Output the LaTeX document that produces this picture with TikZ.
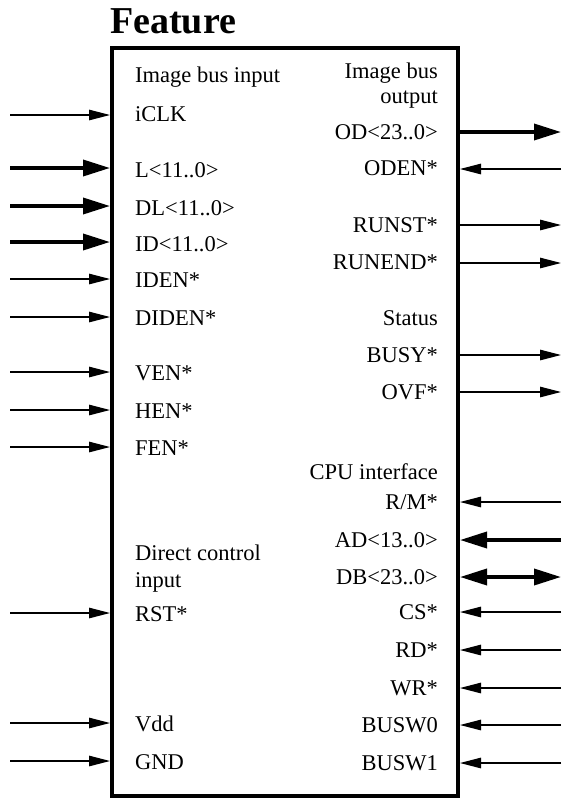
\documentclass[tikz,border=0pt]{standalone}
\usepackage{fontspec}
\setmainfont{Liberation Serif}
\usetikzlibrary{arrows.meta}
\tikzset{
  caja/.style={draw=black,line width=4pt,minimum width=346pt,minimum height=748pt,inner sep=0pt},
  titulo/.style={font=\bfseries\fontsize{38}{42}\selectfont,inner sep=0pt},
  etiq/.style={font=\fontsize{22.5}{26}\selectfont,inner sep=0pt},
  etiqizq/.style={etiq,anchor=base west},
  etiqder/.style={etiq,anchor=base east},
  senal/.style={draw=black,line width=1.2pt,-{Triangle[length=21pt,width=10.5pt]}},
  bus/.style={draw=black,line width=3.6pt,-{Triangle[length=27pt,width=16pt]}},
  busdoble/.style={draw=black,line width=3.6pt,{Triangle[length=27pt,width=16pt]}-{Triangle[length=27pt,width=16pt]}},
}

\begin{document}
\begin{tikzpicture}[x=1pt,y=-1pt]
\useasboundingbox (0,0) rectangle (564,801);
\node[titulo,anchor=base west] (tit) at (110,33) {Feature};
\node[caja] (chip) at (285,422) {};
% lado izquierdo
\node[etiqizq] (gbusin) at (135,82) {Image bus input};
\node[etiqizq] (iclk) at (135,121) {iCLK};
\node[etiqizq] (l) at (135,177) {L<11..0>};
\node[etiqizq] (dl) at (135,215) {DL<11..0>};
\node[etiqizq] (id) at (135,251) {ID<11..0>};
\node[etiqizq] (iden) at (135,287) {IDEN*};
\node[etiqizq] (diden) at (135,325) {DIDEN*};
\node[etiqizq] (ven) at (135,380) {VEN*};
\node[etiqizq] (hen) at (135,418) {HEN*};
\node[etiqizq] (fen) at (135,455) {FEN*};
\node[etiqizq] (gdir1) at (135,560) {Direct control};
\node[etiqizq] (gdir2) at (135,587) {input};
\node[etiqizq] (rst) at (135,621) {RST*};
\node[etiqizq] (vdd) at (135,731) {Vdd};
\node[etiqizq] (gnd) at (135,769) {GND};
% lado derecho
\node[etiqder] (gbusout1) at (438,78) {Image bus};
\node[etiqder] (gbusout2) at (438,103) {output};
\node[etiqder] (od) at (438,139) {OD<23..0>};
\node[etiqder] (oden) at (438,175) {ODEN*};
\node[etiqder] (runst) at (438,232) {RUNST*};
\node[etiqder] (runend) at (438,269) {RUNEND*};
\node[etiqder] (gstat) at (438,325) {Status};
\node[etiqder] (busy) at (438,362) {BUSY*};
\node[etiqder] (ovf) at (438,399) {OVF*};
\node[etiqder] (gcpu) at (438,479) {CPU interface};
\node[etiqder] (rm) at (438,509) {R/M*};
\node[etiqder] (ad) at (438,547) {AD<13..0>};
\node[etiqder] (db) at (438,584) {DB<23..0>};
\node[etiqder] (cs) at (438,619) {CS*};
\node[etiqder] (rd) at (438,657) {RD*};
\node[etiqder] (wr) at (438,695) {WR*};
\node[etiqder] (busw0) at (438,732) {BUSW0};
\node[etiqder] (busw1) at (438,770) {BUSW1};
% extremos libres
\coordinate (p-iclk) at (10,115);
\coordinate (p-l) at (10,168);
\coordinate (p-dl) at (10,206);
\coordinate (p-id) at (10,242);
\coordinate (p-iden) at (10,279);
\coordinate (p-diden) at (10,317);
\coordinate (p-ven) at (10,372);
\coordinate (p-hen) at (10,410);
\coordinate (p-fen) at (10,447);
\coordinate (p-rst) at (10,613);
\coordinate (p-vdd) at (10,723);
\coordinate (p-gnd) at (10,761);
\coordinate (p-od) at (561,132);
\coordinate (p-oden) at (561,169);
\coordinate (p-runst) at (561,225);
\coordinate (p-runend) at (561,263);
\coordinate (p-busy) at (561,355);
\coordinate (p-ovf) at (561,392);
\coordinate (p-rm) at (561,502);
\coordinate (p-ad) at (561,540);
\coordinate (p-db) at (561,577);
\coordinate (p-cs) at (561,612);
\coordinate (p-rd) at (561,650);
\coordinate (p-wr) at (561,688);
\coordinate (p-busw0) at (561,725);
\coordinate (p-busw1) at (561,763);
% entradas
\draw[senal] (p-iclk) -- (chip.west |- p-iclk);
\draw[bus] (p-l) -- (chip.west |- p-l);
\draw[bus] (p-dl) -- (chip.west |- p-dl);
\draw[bus] (p-id) -- (chip.west |- p-id);
\draw[senal] (p-iden) -- (chip.west |- p-iden);
\draw[senal] (p-diden) -- (chip.west |- p-diden);
\draw[senal] (p-ven) -- (chip.west |- p-ven);
\draw[senal] (p-hen) -- (chip.west |- p-hen);
\draw[senal] (p-fen) -- (chip.west |- p-fen);
\draw[senal] (p-rst) -- (chip.west |- p-rst);
\draw[senal] (p-vdd) -- (chip.west |- p-vdd);
\draw[senal] (p-gnd) -- (chip.west |- p-gnd);
% salidas y cpu
\draw[bus] (chip.east |- p-od) -- (p-od);
\draw[senal] (p-oden) -- (chip.east |- p-oden);
\draw[senal] (chip.east |- p-runst) -- (p-runst);
\draw[senal] (chip.east |- p-runend) -- (p-runend);
\draw[senal] (chip.east |- p-busy) -- (p-busy);
\draw[senal] (chip.east |- p-ovf) -- (p-ovf);
\draw[senal] (p-rm) -- (chip.east |- p-rm);
\draw[bus] (p-ad) -- (chip.east |- p-ad);
\draw[busdoble] (chip.east |- p-db) -- (p-db);
\draw[senal] (p-cs) -- (chip.east |- p-cs);
\draw[senal] (p-rd) -- (chip.east |- p-rd);
\draw[senal] (p-wr) -- (chip.east |- p-wr);
\draw[senal] (p-busw0) -- (chip.east |- p-busw0);
\draw[senal] (p-busw1) -- (chip.east |- p-busw1);
\end{tikzpicture}
\end{document}
